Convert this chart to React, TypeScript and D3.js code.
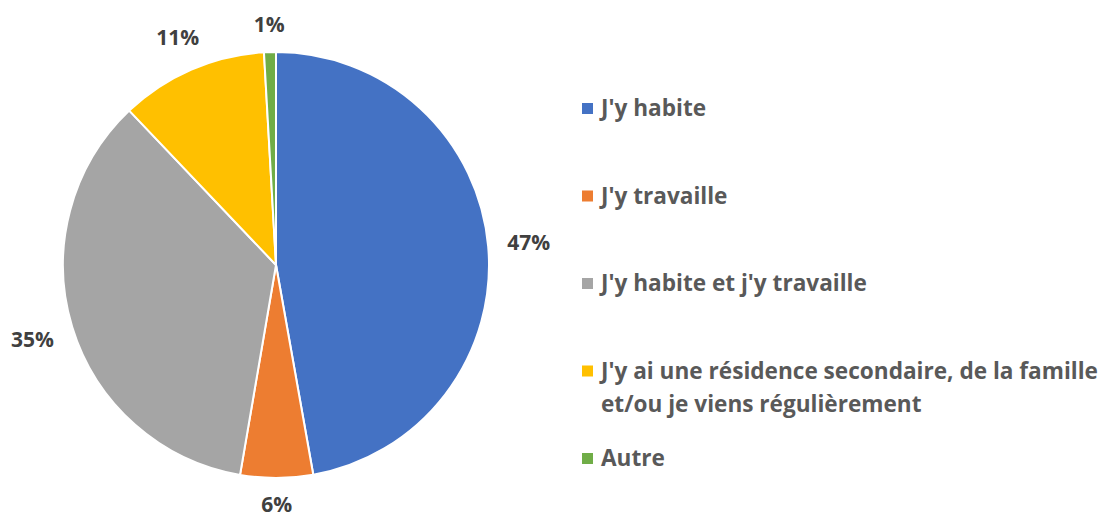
import React from "react";
import * as d3 from "d3";

const categories = [
  "J'y habite",
  "J'y travaille",
  "J'y habite et j'y travaille",
  "J'y ai une résidence secondaire, de la famille et/ou je viens régulièrement",
  "Autre",
];
const legendLines = [
  ["J'y habite"],
  ["J'y travaille"],
  ["J'y habite et j'y travaille"],
  ["J'y ai une résidence secondaire, de la famille", "et/ou je viens régulièrement"],
  ["Autre"],
];
const values = [47.2, 5.5, 35.2, 11.2, 0.9];
const labels = ["47%", "6%", "35%", "11%", "1%"];
const colors = ["#4472C4", "#ED7D31", "#A5A5A5", "#FFC000", "#70AD47"];

const W = 1104;
const H = 516;
const CX = 276;
const CY = 265;
const R = 213;
const FONT = "'Open Sans', 'DejaVu Sans', sans-serif";
const LABEL_SIZE = 21;
const LEGEND_SIZE = 22.6;

export default function App() {
  const pie = d3
    .pie<number>()
    .sort(null)
    .value((d) => d)
    .startAngle(0)
    .endAngle(2 * Math.PI);
  const arcs = pie(values);
  const arcGen = d3.arc<d3.PieArcDatum<number>>().innerRadius(0).outerRadius(R);

  const legendY = d3.scaleLinear().domain([0, 1]).range([108, 195.5]);

  return (
    <svg
      width={W}
      height={H}
      style={{ position: "absolute", left: 0, top: 0, background: "#fff" }}
      fontFamily={FONT}
    >
      <g transform={`translate(${CX},${CY})`}>
        {arcs.map((a, i) => (
          <path key={i} d={arcGen(a) || ""} fill={colors[i]} stroke="#fff" strokeWidth={2} />
        ))}
        {arcs.map((a, i) => {
          const mid = (a.startAngle + a.endAngle) / 2;
          const ux = Math.sin(mid);
          const uy = -Math.cos(mid);
          const txt = labels[i];
          const digits = txt.length - 1;
          const w = LABEL_SIZE * (0.572 * digits + 0.87);
          const h = LABEL_SIZE * 0.75;
          const dist = R + 19 + Math.abs(ux) * (w / 2) + Math.abs(uy) * (h / 2);
          return (
            <text
              key={i}
              x={ux * dist}
              y={uy * dist}
              dy="0.36em"
              textAnchor="middle"
              fontSize={LABEL_SIZE}
              fontWeight={700}
              fill="#404040"
            >
              {txt}
            </text>
          );
        })}
      </g>
      <g>
        {categories.map((c, i) => {
          const y = legendY(i);
          return (
            <g key={c}>
              <rect x={582} y={y - 5} width={11} height={11} fill={colors[i]} />
              {legendLines[i].map((line, j) => (
                <text
                  key={j}
                  x={601}
                  y={y + j * 33}
                  dy="0.36em"
                  fontSize={LEGEND_SIZE}
                  fontWeight={700}
                  fill="#595959"
                >
                  {line}
                </text>
              ))}
            </g>
          );
        })}
      </g>
    </svg>
  );
}
